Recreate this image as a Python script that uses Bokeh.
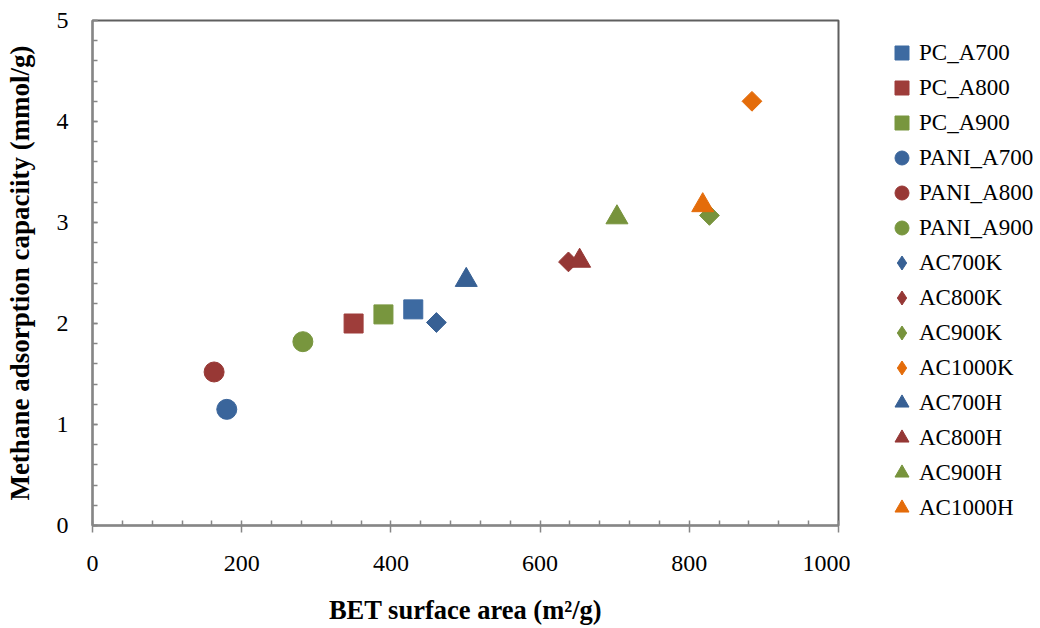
import math
from bokeh.plotting import figure
from bokeh.layouts import row
from bokeh.models import (Legend, LegendItem, ColumnDataSource, SingleIntervalTicker, Range1d)
from bokeh.embed import file_html
from bokeh.resources import INLINE

# ---- data ----
series = ["PC_A700", "PC_A800", "PC_A900",
          "PANI_A700", "PANI_A800", "PANI_A900",
          "AC700K", "AC800K", "AC900K", "AC1000K",
          "AC700H", "AC800H", "AC900H", "AC1000H"]
bet_area = [430, 350, 390,
            180, 163, 282,
            461, 638, 827, 884,
            501, 653, 703, 818]
ch4_capacity = [2.14, 2.00, 2.09,
                1.15, 1.52, 1.82,
                2.01, 2.61, 3.07, 4.20,
                2.43, 2.62, 3.05, 3.17]
shapes = ["square"] * 3 + ["circle"] * 3 + ["diamond"] * 4 + ["triangle"] * 4
series_colors = ["#3d6aa1", "#9e3d3a", "#78963e",
                 "#3a659b", "#983835", "#78963e",
                 "#376094", "#953735", "#77933c", "#e46c0a",
                 "#376094", "#953735", "#77933c", "#e46c0a"]
x_ticks = [0, 200, 400, 600, 800, 1000]
y_ticks = [0, 1, 2, 3, 4, 5]

SERIF = "Liberation Serif"

p = figure(width=850, height=628, output_backend="svg", toolbar_location=None,
           x_range=Range1d(x_ticks[0], x_ticks[-1]), y_range=Range1d(y_ticks[0], y_ticks[-1]),
           min_border_left=92, min_border_right=12, min_border_top=20, min_border_bottom=103)
p.xgrid.visible = False
p.ygrid.visible = False
p.outline_line_color = "#5f5f5f"
p.outline_line_width = 2
p.background_fill_color = "white"
p.border_fill_color = "white"

# axes
xa = p.xaxis[0]
xa.ticker = SingleIntervalTicker(interval=200, num_minor_ticks=5)
xa.axis_line_color = "#868686"
xa.axis_line_width = 2
xa.major_tick_line_color = "#868686"
xa.minor_tick_line_color = "#868686"
xa.major_tick_line_width = 1.5
xa.minor_tick_line_width = 1.5
xa.major_tick_in = 0
xa.major_tick_out = 7
xa.minor_tick_in = 5
xa.minor_tick_out = 0
xa.major_label_standoff = 23
xa.major_label_text_font = SERIF
xa.major_label_text_font_size = "24px"
xa.major_label_text_color = "black"
xa.axis_label = "BET surface area (m²/g)"
xa.axis_label_text_font = SERIF
xa.axis_label_text_font_style = "bold"
xa.axis_label_text_font_size = "26.5px"
xa.axis_label_text_color = "black"
xa.axis_label_standoff = 21

ya = p.yaxis[0]
ya.ticker = SingleIntervalTicker(interval=1, num_minor_ticks=5)
ya.axis_line_color = "#868686"
ya.axis_line_width = 2
ya.major_tick_line_color = "#868686"
ya.minor_tick_line_color = "#868686"
ya.major_tick_line_width = 1.5
ya.minor_tick_line_width = 1.5
ya.major_tick_in = 5
ya.major_tick_out = 0
ya.minor_tick_in = 5
ya.minor_tick_out = 0
ya.major_label_standoff = 24
ya.major_label_text_font = SERIF
ya.major_label_text_font_size = "24px"
ya.major_label_text_color = "black"
ya.axis_label = "Methane adsorption capaciity (mmol/g)"
ya.axis_label_text_font = SERIF
ya.axis_label_text_font_style = "bold"
ya.axis_label_text_font_size = "27px"
ya.axis_label_text_color = "black"
ya.axis_label_standoff = 19

# legend panel: a second, axis-less figure to the right of the chart
q = figure(width=190, height=628, output_backend="svg", toolbar_location=None,
           x_range=Range1d(0, 1), y_range=Range1d(0, 1),
           x_axis_location=None, y_axis_location=None,
           min_border_left=0, min_border_right=0, min_border_top=0, min_border_bottom=0)
q.xgrid.visible = False
q.ygrid.visible = False
q.outline_line_color = None
q.background_fill_color = "white"
q.border_fill_color = "white"

style = {
    "square": dict(marker="square", size=19, angle=0.0),
    "circle": dict(marker="circle", size=20, angle=0.0),
    "diamond": dict(marker="square", size=14, angle=math.pi / 4),
    "triangle": dict(marker="triangle", size=22, angle=0.0),
}
legend_marker = {"square": "square", "circle": "circle", "diamond": "diamond", "triangle": "triangle"}

items = []
for name, bx, cy, shp, col in zip(series, bet_area, ch4_capacity, shapes, series_colors):
    st = style[shp]
    src = ColumnDataSource(dict(x=[bx], y=[cy]))
    p.scatter("x", "y", source=src, marker=st["marker"], size=st["size"],
              angle=st["angle"], fill_color=col, line_color=col, line_width=1)
    # legend key: same series, not drawn in the legend panel itself
    lr = q.scatter("x", "y", source=src, marker=legend_marker[shp], size=st["size"],
                   fill_color=col, line_color=col, line_width=1, visible=False)
    items.append(LegendItem(label=name, renderers=[lr]))

legend = Legend(items=items, location=(34, 0), orientation="vertical",
                glyph_width=35, glyph_height=35, label_standoff=0, spacing=0,
                padding=0, margin=0, border_line_color=None, background_fill_alpha=0,
                inactive_fill_alpha=0,
                label_text_font=SERIF, label_text_font_size="23px",
                label_text_color="black", label_height=20)
q.add_layout(legend, "center")

layout = row(p, q, spacing=0)
open("out.html", "w").write(file_html(layout, INLINE))
